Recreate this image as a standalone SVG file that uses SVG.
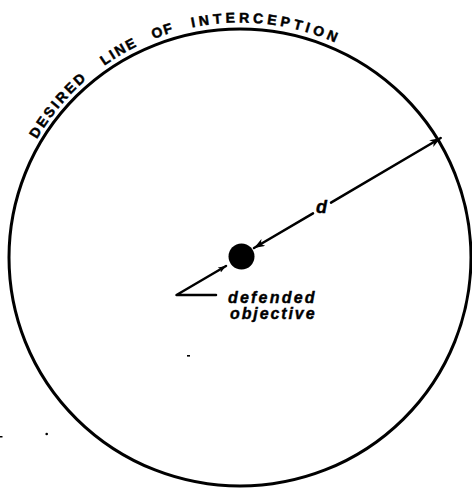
<svg xmlns="http://www.w3.org/2000/svg" xmlns:xlink="http://www.w3.org/1999/xlink" width="472" height="488" viewBox="0 0 472 488">
  <style>
    .ink { fill: none; stroke: #000; stroke-linecap: round; stroke-linejoin: round; }
    .arc { font-family: "Liberation Sans", Arial, sans-serif; font-weight: bold; font-size: 14px; fill: #000; stroke: #000; stroke-width: 0.5px; }
    .lbl { font-family: "Liberation Sans", Arial, sans-serif; font-weight: bold; font-style: italic; fill: #000; stroke: #000; stroke-width: 0.4px; }
  </style>
  <defs>
    <marker id="ah" markerUnits="userSpaceOnUse" markerWidth="12" markerHeight="10" refX="11" refY="4" orient="auto-start-reverse">
      <path d="M0,0 L11,4 L0,8 L3,4 Z" fill="#000"/>
    </marker>
    <marker id="ahs" markerUnits="userSpaceOnUse" markerWidth="9" markerHeight="8" refX="8" refY="3" orient="auto">
      <path d="M0,0 L8,3 L0,6 L2,3 Z" fill="#000"/>
    </marker>
    <path id="textArc" d="M27.02,158.18 A235,235 0 0 1 374.79,65.0"/>
  </defs>
  <rect width="472" height="488" fill="#fff"/>

  <g id="interception-circle">
    <ellipse class="ink" cx="240" cy="257.5" rx="231" ry="228.5" stroke-width="3"/>
    <text class="arc" letter-spacing="2.6"><textPath xlink:href="#textArc" href="#textArc" startOffset="21.3">DESIRED</textPath></text>
    <text class="arc" letter-spacing="2"><textPath xlink:href="#textArc" href="#textArc" startOffset="121.8">LINE</textPath></text>
    <text class="arc" letter-spacing="1.2"><textPath xlink:href="#textArc" href="#textArc" startOffset="178">OF</textPath></text>
    <text class="arc" letter-spacing="3.8"><textPath xlink:href="#textArc" href="#textArc" startOffset="218.2">INTERCEPTION</textPath></text>
  </g>

  <g id="defended-objective">
    <circle cx="241.5" cy="256.5" r="13" fill="#000"/>
    <text class="lbl" font-size="16" letter-spacing="2.2" x="228" y="303">defended</text>
    <text class="lbl" font-size="16" letter-spacing="1.9" x="230" y="319">objective</text>
  </g>

  <g id="connectors">
    <line class="ink" stroke-width="2.5" x1="254" y1="248" x2="313" y2="213.3" marker-start="url(#ah)"/>
    <line class="ink" stroke-width="2.5" x1="331" y1="202.6" x2="440.7" y2="138" marker-end="url(#ah)"/>
    <text class="lbl" font-size="18" text-anchor="middle" x="321.5" y="213">d</text>
    <polyline class="ink" stroke-width="2.5" points="216,295 176.5,295 226,266" marker-end="url(#ahs)"/>
  </g>

  <g id="specks" fill="#000">
    <rect x="187" y="355" width="3" height="1.6"/>
    <circle cx="46.7" cy="434" r="1.3"/>
    <rect x="0" y="436" width="2.5" height="1.5"/>
  </g>
</svg>
